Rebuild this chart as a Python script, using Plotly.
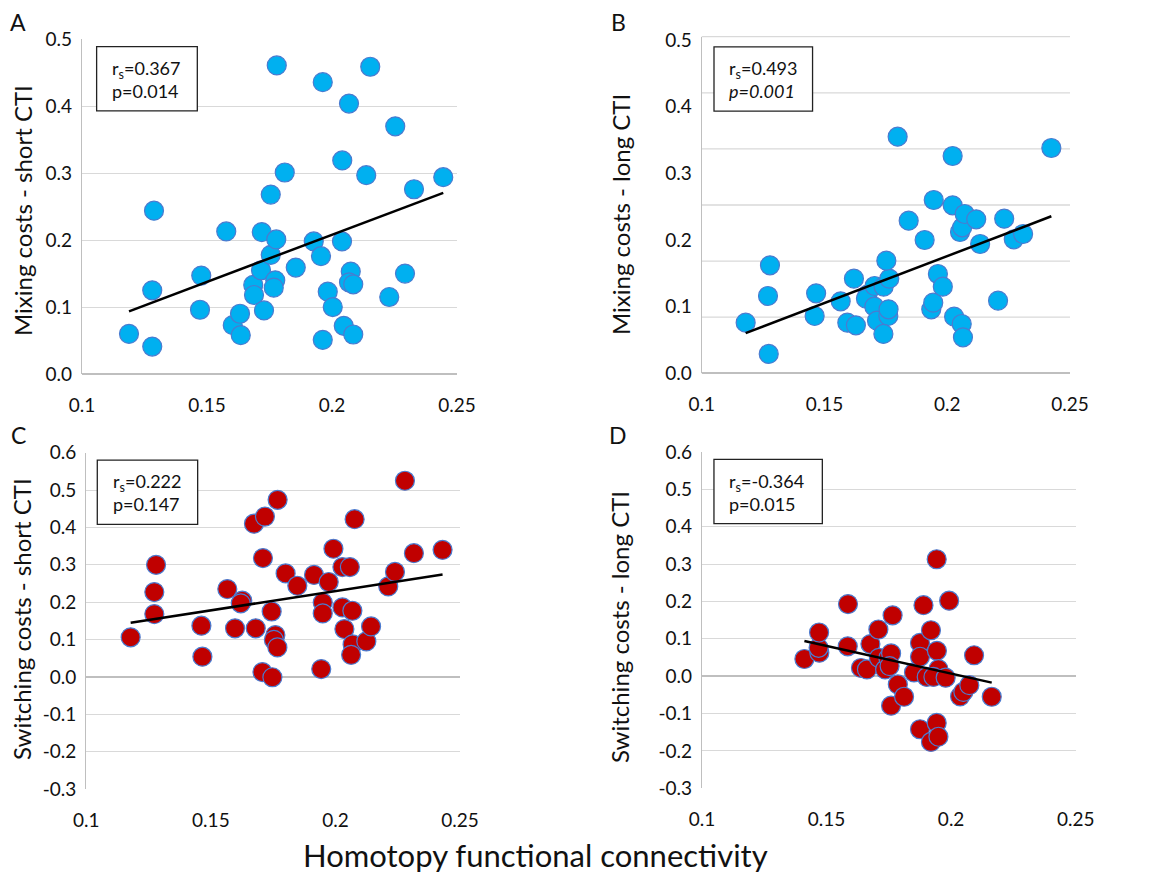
import numpy as np
import plotly.graph_objects as go

# homotopy functional connectivity (x) and task costs (y)
a_x = [0.1188, 0.1281, 0.1281, 0.1288, 0.1472, 0.1477, 0.1577, 0.1603, 0.1632, 0.1635,
       0.1685, 0.1688, 0.1716, 0.1719, 0.1728, 0.1755, 0.1755, 0.1773, 0.1767, 0.1777,
       0.1779, 0.1811, 0.1855, 0.1927, 0.1956, 0.1963, 0.1963, 0.1983, 0.2003, 0.2040,
       0.2041, 0.2047, 0.2068, 0.2075, 0.2068, 0.2085, 0.2085, 0.2137, 0.2153, 0.2229,
       0.2253, 0.2292, 0.2328, 0.2445]
a_y = [0.060, 0.041, 0.125, 0.244, 0.096, 0.147, 0.213, 0.073, 0.090, 0.058,
       0.133, 0.118, 0.155, 0.212, 0.095, 0.178, 0.268, 0.140, 0.129, 0.201,
       0.461, 0.301, 0.159, 0.198, 0.176, 0.051, 0.436, 0.123, 0.100, 0.198,
       0.319, 0.072, 0.404, 0.153, 0.137, 0.134, 0.059, 0.297, 0.459, 0.115,
       0.370, 0.150, 0.276, 0.294]

b_x = [0.1179, 0.1273, 0.1270, 0.1278, 0.1460, 0.1466, 0.1566, 0.1593, 0.1628, 0.1620,
       0.1675, 0.1669, 0.1704, 0.1741, 0.1703, 0.1714, 0.1760, 0.1761, 0.1740, 0.1764,
       0.1752, 0.1798, 0.1843, 0.1908, 0.1935, 0.1943, 0.1962, 0.1982, 0.1945, 0.2022,
       0.2022, 0.2028, 0.2059, 0.2064, 0.2052, 0.2061, 0.2071, 0.2118, 0.2134, 0.2207,
       0.2232, 0.2271, 0.2309, 0.2424]
b_y = [0.076, 0.029, 0.116, 0.162, 0.086, 0.120, 0.108, 0.076, 0.072, 0.142,
       0.118, 0.112, 0.131, 0.130, 0.100, 0.079, 0.086, 0.096, 0.059, 0.142,
       0.169, 0.355, 0.229, 0.200, 0.096, 0.106, 0.149, 0.130, 0.260, 0.326,
       0.252, 0.085, 0.074, 0.054, 0.212, 0.219, 0.239, 0.231, 0.194, 0.109,
       0.232, 0.201, 0.209, 0.338]

c_x = [0.1178, 0.1273, 0.1273, 0.1280, 0.1462, 0.1466, 0.1566, 0.1597, 0.1626, 0.1620,
       0.1673, 0.1680, 0.1717, 0.1709, 0.1707, 0.1747, 0.1744, 0.1759, 0.1753, 0.1767,
       0.1768, 0.1800, 0.1847, 0.1914, 0.1949, 0.1949, 0.1943, 0.1973, 0.1992, 0.2028,
       0.2058, 0.2028, 0.2036, 0.2068, 0.2069, 0.2063, 0.2077, 0.2124, 0.2143, 0.2212,
       0.2239, 0.2279, 0.2315, 0.2430]
c_y = [0.106, 0.168, 0.227, 0.300, 0.137, 0.054, 0.235, 0.130, 0.204, 0.197,
       0.410, 0.130, 0.429, 0.318, 0.013, -0.001, 0.175, 0.112, 0.099, 0.079,
       0.474, 0.277, 0.244, 0.273, 0.199, 0.170, 0.021, 0.254, 0.343, 0.294,
       0.294, 0.186, 0.128, 0.177, 0.087, 0.059, 0.422, 0.095, 0.135, 0.242,
       0.281, 0.525, 0.331, 0.340]

d_x = [0.1411, 0.1471, 0.1468, 0.1470, 0.1585, 0.1586, 0.1638, 0.1662, 0.1676, 0.1708,
       0.1710, 0.1735, 0.1748, 0.1759, 0.1753, 0.1765, 0.1759, 0.1786, 0.1811, 0.1851,
       0.1875, 0.1875, 0.1875, 0.1889, 0.1902, 0.1919, 0.1919, 0.1942, 0.1943, 0.1949,
       0.1929, 0.1942, 0.1949, 0.1978, 0.1992, 0.2036, 0.2049, 0.2073, 0.2092, 0.2163]
d_y = [0.046, 0.063, 0.076, 0.117, 0.080, 0.193, 0.022, 0.018, 0.086, 0.125,
       0.049, 0.018, 0.049, 0.061, 0.027, 0.163, -0.079, -0.022, -0.055, 0.010,
       0.089, 0.052, -0.142, 0.190, -0.002, 0.123, -0.176, 0.313, 0.068, 0.019,
       -0.002, -0.125, -0.162, -0.004, 0.202, -0.054, -0.042, -0.024, 0.056, -0.055]

panel_letters = ["A", "B", "C", "D"]
y_titles = ["Mixing costs - short CTI", "Mixing costs - long CTI",
            "Switching costs - short CTI", "Switching costs - long CTI"]
r_labels = ["0.367", "0.493", "0.222", "-0.364"]
p_labels = ["p=0.014", "<i>p=0.001</i>", "p=0.147", "p=0.015"]
x_ticks = [0.1, 0.15, 0.2, 0.25]
x_tick_text = ["0.1", "0.15", "0.2", "0.25"]
mix_ticks = [0.0, 0.1, 0.2, 0.3, 0.4, 0.5]
mix_tick_text = ["0.0", "0.1", "0.2", "0.3", "0.4", "0.5"]
sw_ticks = [-0.3, -0.2, -0.1, 0.0, 0.1, 0.2, 0.3, 0.4, 0.5, 0.6]
sw_tick_text = ["-0.3", "-0.2", "-0.1", "0.0", "0.1", "0.2", "0.3", "0.4", "0.5", "0.6"]

FONT = "Lato"
GRID = "#d9d9d9"
AXIS = "#bfbfbf"
BLUE = "#00b0f0"
RED = "#c00000"

# page body has an 8px margin, so size the figure to fit inside the window
OFF = 8
W, H = 1150 - 2 * OFF, 881 - 2 * OFF


def fx(p):
    return (p - OFF) / W


def fy(p):
    return 1 - (p - OFF) / H


fig = go.Figure()

panels = [
    (a_x, a_y, BLUE, "x", "y"),
    (b_x, b_y, BLUE, "x2", "y2"),
    (c_x, c_y, RED, "x3", "y3"),
    (d_x, d_y, RED, "x4", "y4"),
]

for xs, ys, col, xa, ya in panels:
    fig.add_trace(go.Scatter(
        x=xs, y=ys, mode="markers", xaxis=xa, yaxis=ya,
        marker=dict(size=19, color=col, line=dict(color="#4a7bd0", width=1.2)),
        showlegend=False, hoverinfo="skip"))
    # linear trendline like Excel
    k, c = np.polyfit(xs, ys, 1)
    lx = np.array([min(xs), max(xs)])
    fig.add_trace(go.Scatter(
        x=lx, y=k * lx + c, mode="lines", xaxis=xa, yaxis=ya,
        line=dict(color="black", width=2.5), showlegend=False, hoverinfo="skip"))

# plot areas in window pixels: (left, right, top, bottom)
areas = [(82, 457, 39.3, 374), (701.7, 1070, 36.7, 373.3),
         (86.3, 460, 452.7, 789), (702, 1075.7, 452, 788.3)]
yrng = [[0, 0.5], [0, 0.505], [-0.3, 0.6], [-0.3, 0.6]]
yticks = [(mix_ticks, mix_tick_text), (mix_ticks, mix_tick_text),
          (sw_ticks, sw_tick_text), (sw_ticks, sw_tick_text)]

tickfont = dict(family=FONT, size=19, color="#111")
for i in range(4):
    s = "" if i == 0 else str(i + 1)
    l, r, t, b = areas[i]
    fig.layout["xaxis" + s] = dict(
        domain=[fx(l), fx(r)], anchor="y" + s, range=[0.1, 0.25], tickvals=x_ticks,
        ticktext=x_tick_text, showgrid=False, zeroline=False,
        showline=False, ticks="", ticklabelstandoff=18, tickfont=tickfont,
        automargin=False)
    fig.layout["yaxis" + s] = dict(
        domain=[fy(b), fy(t)], anchor="x" + s, range=yrng[i],
        tickvals=yticks[i][0], ticktext=yticks[i][1],
        showgrid=(i != 1), gridcolor=GRID, gridwidth=1.3,
        zeroline=True, zerolinecolor=AXIS, zerolinewidth=1.5,
        showline=True, linecolor=AXIS, linewidth=1.3, ticks="",
        ticklabelstandoff=5, tickfont=tickfont, automargin=False)

# panel B: in the original the gridlines do not line up with the labels
for k in range(7):
    fig.add_shape(type="line", xref="x2 domain", yref="y2 domain",
                  x0=0, x1=1, y0=k / 6, y1=k / 6, layer="below",
                  line=dict(color=GRID, width=1.3))

# stats boxes
box_x = [[0.039, 0.3075], [0.0334, 0.301], [0.0294, 0.298], [0.032, 0.322]]
box_y = [[0.786, 0.978], [0.779, 0.970], [0.787, 0.978], [0.787, 0.978]]
txt_pos = [(0.0747, 0.881), (0.068, 0.874), (0.065, 0.882), (0.068, 0.880)]
sub = ["", "2", "3", "4"]
for i in range(4):
    fig.add_shape(type="rect", xref="x%s domain" % sub[i], yref="y%s domain" % sub[i],
                  x0=box_x[i][0], x1=box_x[i][1], y0=box_y[i][0], y1=box_y[i][1],
                  line=dict(color="#222", width=1.3), fillcolor="white", layer="above")
    fig.add_annotation(
        xref="x%s domain" % sub[i], yref="y%s domain" % sub[i],
        x=txt_pos[i][0], y=txt_pos[i][1], xanchor="left", yanchor="middle",
        align="left", showarrow=False,
        text="r<sub>s</sub>=%s<br>%s" % (r_labels[i], p_labels[i]),
        font=dict(family=FONT, size=18, color="#111"))

# y titles and panel letters (window pixels)
ytitle_pos = [(22, 211), (620, 215), (21, 619), (619, 627)]
letter_pos = [(18, 22), (618, 22), (18, 435), (618, 435)]
for i in range(4):
    fig.add_annotation(xref="paper", yref="paper",
                       x=fx(ytitle_pos[i][0]), y=fy(ytitle_pos[i][1]),
                       xanchor="center", yanchor="middle",
                       text=y_titles[i], textangle=-90, showarrow=False,
                       font=dict(family=FONT, size=24, color="#111"))
    fig.add_annotation(xref="paper", yref="paper",
                       x=fx(letter_pos[i][0]), y=fy(letter_pos[i][1]),
                       xanchor="center", yanchor="middle",
                       text=panel_letters[i], showarrow=False,
                       font=dict(family=FONT, size=23, color="#111"))

fig.add_annotation(xref="paper", yref="paper", x=fx(535), y=fy(855),
                   xanchor="center", yanchor="middle",
                   text="Homotopy functional connectivity", showarrow=False,
                   font=dict(family=FONT, size=31, color="#111"))

fig.update_layout(width=W, height=H,
                  margin=dict(l=0, r=0, t=0, b=0, autoexpand=False),
                  paper_bgcolor="white", plot_bgcolor="white")

fig.write_html("out.html")
